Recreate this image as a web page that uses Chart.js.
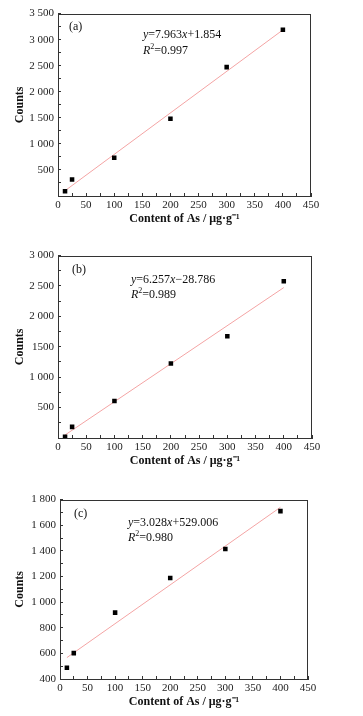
<!DOCTYPE html>
<html><head><meta charset="utf-8">
<script src="https://cdn.jsdelivr.net/npm/chart.js@4.4.0/dist/chart.umd.min.js"></script>
<style>
html,body{margin:0;padding:0;background:#fff;width:363px;height:716px;overflow:hidden;position:relative}
.wrap{position:absolute;left:0;width:363px}
canvas{display:block}
</style></head><body>
<div class="wrap" style="top:0;height:235px"><canvas id="ca"></canvas></div>
<div class="wrap" style="top:242px;height:235px"><canvas id="cb"></canvas></div>
<div class="wrap" style="top:486px;height:232px"><canvas id="cc"></canvas></div>
<script>
// ---- data ----
const contentAs = [12.5, 25, 100, 200, 300, 400];
const countsA = [89, 316, 732, 1481, 2473, 3192];
const countsB = [20, 183, 610, 1226, 1675, 2578];
const countsC = [487, 602, 918, 1189, 1415, 1710];
const fitA = [7.963, 1.854];
const fitB = [6.257, -28.786];
const fitC = [3.028, 529.006];
const xTickVals = [0, 50, 100, 150, 200, 250, 300, 350, 400, 450];
const xTickText = ['0', '50', '100', '150', '200', '250', '300', '350', '400', '450'];
const yTickValsA = [500, 1000, 1500, 2000, 2500, 3000, 3500];
const yTickTextA = ['500', '1 000', '1 500', '2 000', '2 500', '3 000', '3 500'];
const yTickValsB = [500, 1000, 1500, 2000, 2500, 3000];
const yTickTextB = ['500', '1 000', '1500', '2 000', '2 500', '3 000'];
const yTickValsC = [400, 600, 800, 1000, 1200, 1400, 1600, 1800];
const yTickTextC = ['400', '600', '800', '1 000', '1 200', '1 400', '1 600', '1 800'];
const panelLabels = ['(a)', '(b)', '(c)'];
const eqTexts = [
  ['7.963', '+1.854', '0.997'],
  ['6.257', '\u221228.786', '0.989'],
  ['3.028', '+529.006', '0.980']
];
const xTitle = 'Content of As / \u03bcg\u00b7g\u207b\u00b9';
const yTitle = 'Counts';

const FONT = '"Liberation Serif", "Times New Roman", serif';

function annotPlugin(idx, pos) {
  return {
    id: 'annot' + idx,
    afterDraw(chart) {
      const ctx = chart.ctx, a = chart.chartArea;
      ctx.save();
      // frame
      ctx.strokeStyle = '#333';
      ctx.lineWidth = 1;
      ctx.strokeRect(Math.round(a.left) + 0.5, Math.round(a.top) + 0.5, Math.round(a.right - a.left) - 1, Math.round(a.bottom - a.top));
      ctx.fillStyle = '#111';
      ctx.textBaseline = 'middle';
      ctx.font = '12px ' + FONT;
      ctx.textAlign = 'left';
      ctx.fillText(panelLabels[idx], a.left + pos.lx, a.top + pos.ly);
      const t = eqTexts[idx];
      let x = a.left + pos.ex, y = a.top + pos.ey;
      const parts = [['y', true], ['=' + t[0], false], ['x', true], [t[1], false]];
      for (const [s, it] of parts) {
        ctx.font = (it ? 'italic ' : '') + '12px ' + FONT;
        ctx.fillText(s, x, y);
        x += ctx.measureText(s).width;
      }
      x = a.left + pos.ex; y = a.top + pos.ry;
      ctx.font = 'italic 12px ' + FONT;
      ctx.fillText('R', x, y); x += ctx.measureText('R').width;
      ctx.font = '8px ' + FONT;
      ctx.fillText('2', x, y - 4); x += ctx.measureText('2').width;
      ctx.font = '12px ' + FONT;
      ctx.fillText('=' + t[2], x, y);
      ctx.restore();
    }
  };
}

function makeChart(id, idx, counts, fit, yMin, yMax, yStep, yVals, yTexts, left, right, pos) {
  const xmin = Math.min(...contentAs), xmax = Math.max(...contentAs);
  const pts = contentAs.map((x, i) => ({x: x, y: counts[i]}));
  const line = [{x: xmin, y: fit[0] * xmin + fit[1]}, {x: xmax, y: fit[0] * xmax + fit[1]}];
  new Chart(document.getElementById(id), {
    type: 'scatter',
    data: {
      datasets: [
        {data: pts, pointStyle: 'rect', pointRadius: 3.2, backgroundColor: '#000', borderColor: '#000', borderWidth: 0, order: 0},
        {type: 'line', data: line, showLine: true, borderColor: '#f4a4a4', borderWidth: 1, pointRadius: 0, fill: false, order: 1}
      ]
    },
    options: {
      responsive: true, maintainAspectRatio: false, animation: false,
      layout: {padding: {top: 11, right: 363 - right, left: 0, bottom: 0}},
      plugins: {legend: {display: false}, tooltip: {enabled: false}},
      scales: {
        x: {
          type: 'linear', min: 0, max: 450,
          afterFit: s => { s.height = 39; },
          ticks: {stepSize: 25, autoSkip: false, maxRotation: 0, padding: 6, color: '#222',
            font: {family: FONT, size: 11},
            callback: v => { const i = xTickVals.indexOf(v); return i >= 0 ? xTickText[i] : ''; }},
          grid: {drawOnChartArea: false, drawTicks: true, tickLength: -3, color: '#333'},
          border: {display: true, color: '#333'},
          title: {display: true, text: xTitle, color: '#111', font: {family: FONT, size: 12, weight: 'bold'}, padding: {top: 0, bottom: 9}}
        },
        y: {
          type: 'linear', min: yMin, max: yMax,
          afterFit: s => { s.width = left; },
          ticks: {stepSize: yStep, autoSkip: false, padding: 7, color: '#222',
            font: {family: FONT, size: 11},
            callback: v => { const i = yVals.indexOf(v); return i >= 0 ? yTexts[i] : ''; }},
          grid: {drawOnChartArea: false, drawTicks: true, tickLength: -3, color: '#333'},
          border: {display: true, color: '#333'},
          title: {display: true, text: yTitle, color: '#111', font: {family: FONT, size: 12, weight: 'bold'}, padding: {top: 13, bottom: 0}}
        }
      }
    },
    plugins: [annotPlugin(idx, pos)]
  });
}

makeChart('ca', 0, countsA, fitA, 0, 3500, 250, yTickValsA, yTickTextA, 58, 311, {lx: 11, ly: 13, ex: 85, ey: 21, ry: 37});
makeChart('cb', 1, countsB, fitB, 0, 3000, 250, yTickValsB, yTickTextB, 58, 312, {lx: 14, ly: 14, ex: 73, ey: 24, ry: 39.5});
makeChart('cc', 2, countsC, fitC, 400, 1800, 100, yTickValsC, yTickTextC, 60, 308, {lx: 14, ly: 14.5, ex: 68, ey: 23, ry: 38.5});
</script>
</body></html>
